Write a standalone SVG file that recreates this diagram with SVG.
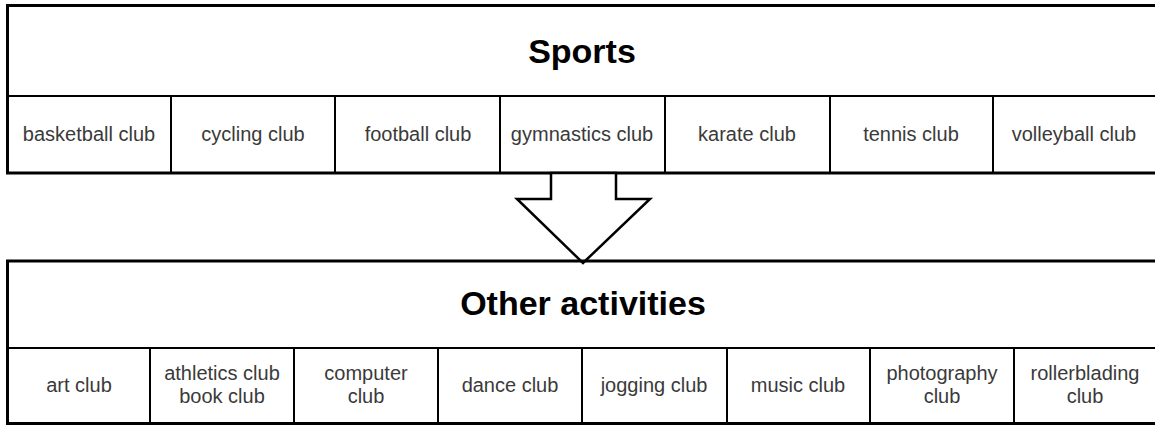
<svg xmlns="http://www.w3.org/2000/svg" width="1155" height="425" viewBox="0 0 1155 425">
<style>
.frame{fill:none;stroke:#000;stroke-width:3}
.cell{fill:none;stroke:#000;stroke-width:2}
.title{font-family:"Liberation Sans",Arial,sans-serif;font-weight:bold;font-size:34px;fill:#000;text-anchor:middle}
.lbl{font-family:"Liberation Sans",Arial,sans-serif;font-size:20px;fill:#3a3a3a;text-anchor:middle}
.arrow{fill:#fff;stroke:#000;stroke-width:2.5;stroke-linejoin:miter}
</style>
<rect width="1155" height="425" fill="#fff"/>
<g id="sports">
<rect class="frame" x="7.5" y="5.5" width="1160" height="167.5"/>
<line class="cell" x1="8" y1="96" x2="1155" y2="96"/>
<line class="cell" x1="171" y1="96" x2="171" y2="173"/>
<line class="cell" x1="335" y1="96" x2="335" y2="173"/>
<line class="cell" x1="500" y1="96" x2="500" y2="173"/>
<line class="cell" x1="665" y1="96" x2="665" y2="173"/>
<line class="cell" x1="830" y1="96" x2="830" y2="173"/>
<line class="cell" x1="993" y1="96" x2="993" y2="173"/>
<text class="title" x="582" y="63">Sports</text>
<text class="lbl" x="89" y="141">basketball club</text>
<text class="lbl" x="253" y="141">cycling club</text>
<text class="lbl" x="418" y="141">football club</text>
<text class="lbl" x="582" y="141">gymnastics club</text>
<text class="lbl" x="747" y="141">karate club</text>
<text class="lbl" x="911" y="141">tennis club</text>
<text class="lbl" x="1074" y="141">volleyball club</text>
</g>
<g id="connectors">
<polygon class="arrow" points="551,173 551,199 517,199 583,263 650,199 616,199 616,173"/>
</g>
<g id="other">
<rect class="frame" x="7.5" y="261" width="1160" height="162.5"/>
<line class="cell" x1="8" y1="348" x2="1155" y2="348"/>
<line class="cell" x1="150" y1="348" x2="150" y2="424"/>
<line class="cell" x1="294" y1="348" x2="294" y2="424"/>
<line class="cell" x1="438" y1="348" x2="438" y2="424"/>
<line class="cell" x1="582" y1="348" x2="582" y2="424"/>
<line class="cell" x1="727" y1="348" x2="727" y2="424"/>
<line class="cell" x1="870" y1="348" x2="870" y2="424"/>
<line class="cell" x1="1014" y1="348" x2="1014" y2="424"/>
<text class="title" x="583" y="315">Other activities</text>
<text class="lbl" x="79" y="392">art club</text>
<text class="lbl" x="222" y="380">athletics club</text>
<text class="lbl" x="222" y="403">book club</text>
<text class="lbl" x="366" y="380">computer</text>
<text class="lbl" x="366" y="403">club</text>
<text class="lbl" x="510" y="392">dance club</text>
<text class="lbl" x="654" y="392">jogging club</text>
<text class="lbl" x="798" y="392">music club</text>
<text class="lbl" x="942" y="380">photography</text>
<text class="lbl" x="942" y="403">club</text>
<text class="lbl" x="1085" y="380">rollerblading</text>
<text class="lbl" x="1085" y="403">club</text>
</g>
</svg>
